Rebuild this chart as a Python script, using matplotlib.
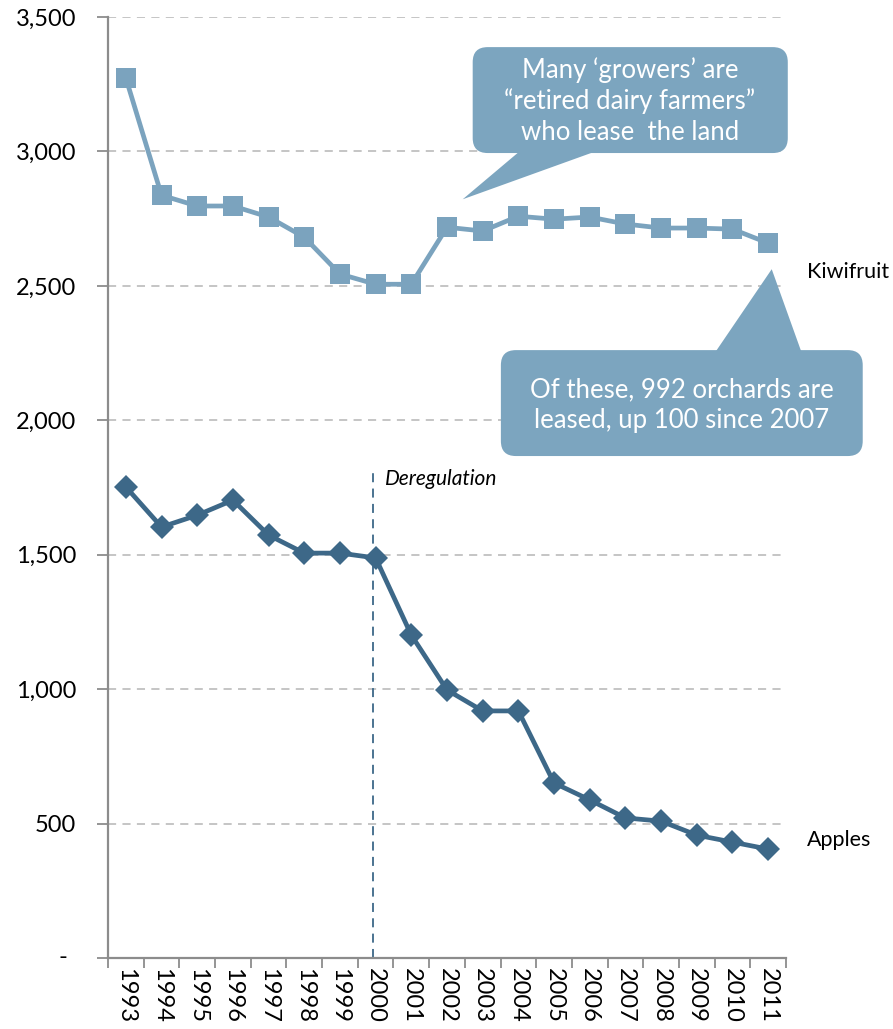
import matplotlib
matplotlib.use("Agg")
import matplotlib.pyplot as plt
from matplotlib.patches import FancyBboxPatch, Polygon
from matplotlib.ticker import FixedLocator, FuncFormatter

plt.rcParams['font.family'] = ['Lato', 'DejaVu Sans']

years = [str(y) for y in range(1993, 2012)]
kiwifruit = [3273, 2837, 2797, 2797, 2756, 2681, 2544, 2506, 2506, 2718,
             2704, 2759, 2748, 2756, 2730, 2715, 2715, 2711, 2659]
apples = [1752, 1603, 1647, 1703, 1573, 1506, 1506, 1488, 1201, 997,
          919, 919, 651, 588, 521, 509, 457, 431, 405]
y_ticks = [0, 500, 1000, 1500, 2000, 2500, 3000, 3500]
dereg_year = "2000"

kiwi_color = "#7BA3BE"
apple_color = "#3D6888"
callout_color = "#7CA5BF"
grid_color = "#C0C0C0"
spine_color = "#8C8C8C"

fig = plt.figure(figsize=(8.93, 10.29), dpi=100)
ax = fig.add_axes([108 / 893, 71 / 1029, 678 / 893, 941 / 1029])

x = list(range(len(years)))
ax.plot(x, kiwifruit, color=kiwi_color, lw=3.4, marker="s", markersize=14.5,
        markeredgewidth=0, zorder=3, clip_on=False)
ax.plot(x, apples, color=apple_color, lw=3.4, marker="D", markersize=12.5,
        markeredgewidth=0, zorder=3, clip_on=False)

ax.set_xlim(-0.5, len(years) - 0.5)
ax.set_ylim(0, 3500)

# y axis; the zero label is a dash placed further left
ax.yaxis.set_major_locator(FixedLocator(y_ticks))
ax.yaxis.set_major_formatter(FuncFormatter(lambda v, p: "" if v == 0 else f"{int(v):,}"))
ax.tick_params(axis="y", length=8, width=1.3, color=spine_color, pad=15,
               labelsize=17, labelcolor="#000000")
ax.annotate("-", xy=(0, 0), xycoords=("axes fraction", "data"),
            xytext=(-45, 0), textcoords="offset pixels",
            ha="center", va="center", fontsize=17)
for v in y_ticks[1:]:
    ax.axhline(v, color=grid_color, lw=1.3, ls=(0, (4.5, 3.5)), zorder=1)

# x axis: labels at category centres, tick marks on boundaries
ax.set_xticks(x)
ax.set_xticklabels(years, rotation=-90, fontsize=17)
ax.set_xticks([i - 0.5 for i in range(len(years) + 1)], minor=True)
ax.tick_params(axis="x", which="major", length=0, pad=7)
ax.tick_params(axis="x", which="minor", length=7, width=1.3, color=spine_color)

for side in ("top", "right"):
    ax.spines[side].set_visible(False)
for side in ("left", "bottom"):
    ax.spines[side].set_color(spine_color)
    ax.spines[side].set_linewidth(1.6)

# deregulation marker
dx = years.index(dereg_year) - 0.08
ax.plot([dx, dx], [0, 1822], color=apple_color, lw=1.3, ls=(0, (5, 3.5)), zorder=2)
ax.text(dx + 0.34, 1781, "Deregulation", style="italic", fontsize=15,
        va="center", ha="left")

# series labels
ax.text(19.1, 2551, "Kiwifruit", fontsize=15.5, va="center", ha="left")
ax.text(19.1, 439, "Apples", fontsize=15.5, va="center", ha="left")

# callouts (drawn in data units; aspect keeps rounded corners circular)
aspect = (3500 / 941) / (1 / (678 / 19))


def callout(x0, x1, y0, y1, tail, text, tx, ty):
    box = FancyBboxPatch((x0 + 0.42, y0 + 0.42 * aspect),
                         (x1 - x0) - 0.84, (y1 - y0) - 0.84 * aspect,
                         boxstyle="round,pad=0.42", mutation_aspect=aspect,
                         fc=callout_color, ec="none", zorder=5, clip_on=False)
    ax.add_patch(box)
    ax.add_patch(Polygon(tail, closed=True, fc=callout_color, ec="none",
                         zorder=5, clip_on=False))
    ax.text(tx, ty, text, color="white", fontsize=18.5, ha="center",
            va="center", linespacing=1.28, zorder=6)


callout(9.72, 18.55, 2994, 3388,
        [(9.44, 2822), (11.12, 3010), (13.37, 3010)],
        "Many \u2018growers\u2019 are\n\u201cretired dairy farmers\u201d\nwho lease  the land",
        14.13, 3188)
callout(10.51, 20.65, 1867, 2261,
        [(18.1, 2562), (16.45, 2240), (18.97, 2240)],
        "Of these, 992 orchards are\nleased, up 100 since 2007",
        15.58, 2057)

fig.savefig("out.png", dpi=100)
